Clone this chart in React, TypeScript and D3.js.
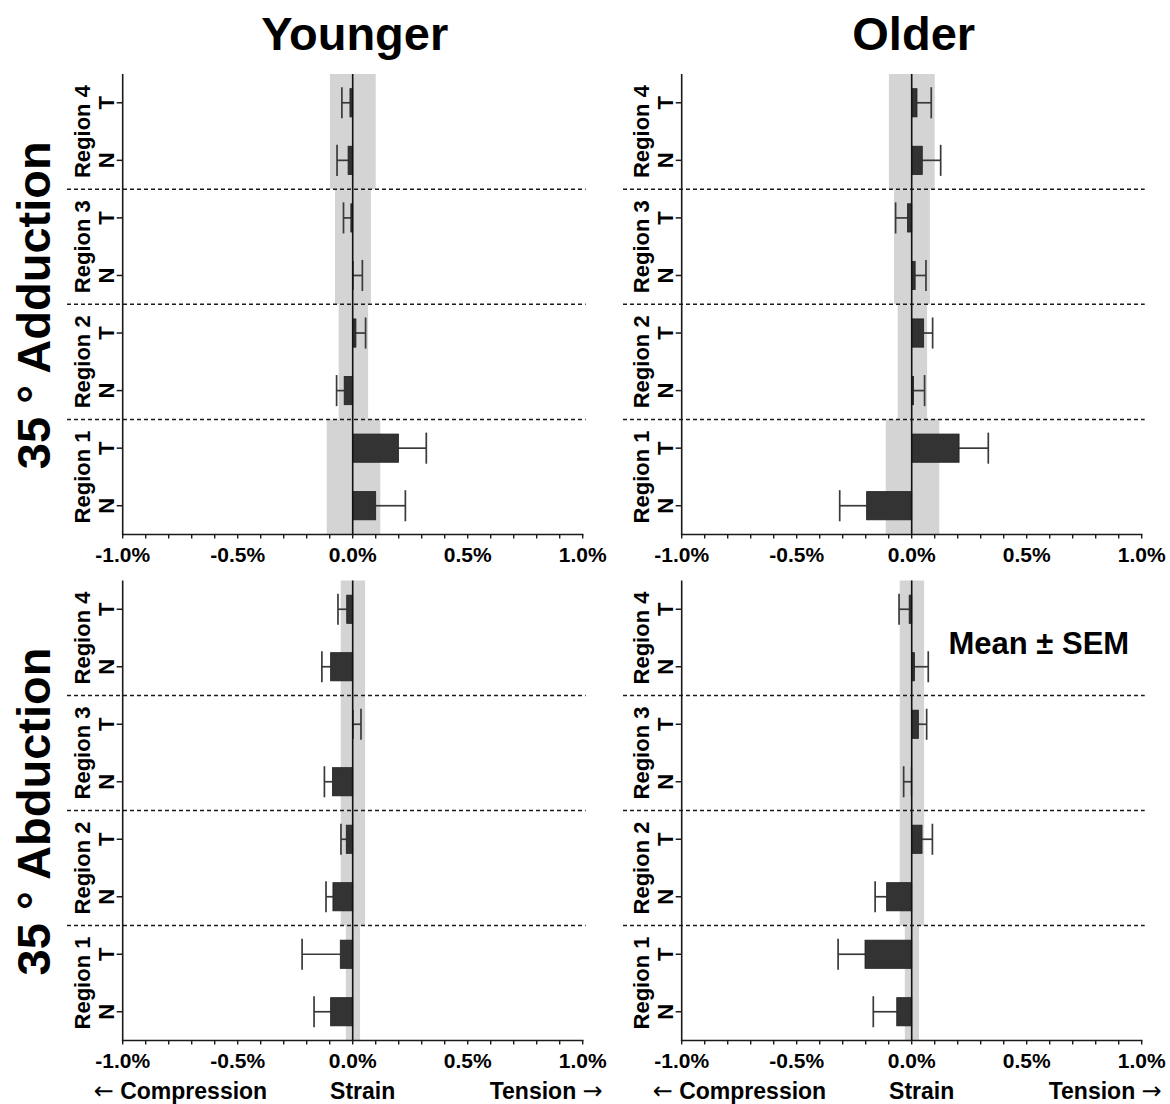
import React from "react";
import * as d3 from "d3";

// ---- data (values in % strain) ----
const categoryKeys = ["1N", "1T", "2N", "2T", "3N", "3T", "4N", "4T"];
const regionNames = ["Region 1", "Region 2", "Region 3", "Region 4"];
const sideNames = ["N", "T"];
const columnTitles = ["Younger", "Older"];
const rowTitles = ["35 ° Adduction", "35 ° Abduction"];
const tickValues = [-1, -0.9, -0.8, -0.7, -0.6, -0.5, -0.4, -0.3, -0.2, -0.1, 0, 0.1, 0.2, 0.3, 0.4, 0.5, 0.6, 0.7, 0.8, 0.9, 1];
const tickLabelValues = [-1, -0.5, 0, 0.5, 1];
const tickLabels = ["-1.0%", "-0.5%", "0.0%", "0.5%", "1.0%"];

const youngerAdductionMean = [0.100, 0.199, -0.037, 0.014, 0.002, -0.008, -0.020, -0.012];
const youngerAdductionSem = [0.129, 0.121, 0.033, 0.042, 0.040, 0.032, 0.048, 0.035];
const olderAdductionMean = [-0.196, 0.206, 0.008, 0.052, 0.015, -0.018, 0.046, 0.023];
const olderAdductionSem = [0.117, 0.127, 0.048, 0.039, 0.047, 0.052, 0.080, 0.062];
const youngerAbductionMean = [-0.096, -0.054, -0.086, -0.028, -0.088, 0.002, -0.096, -0.026];
const youngerAbductionSem = [0.072, 0.166, 0.030, 0.023, 0.035, 0.034, 0.038, 0.038];
const olderAbductionMean = [-0.065, -0.203, -0.109, 0.045, -0.002, 0.029, 0.012, -0.011];
const olderAbductionSem = [0.102, 0.117, 0.050, 0.045, 0.033, 0.036, 0.060, 0.044];

// grey threshold bands per region (1..4)
const adductionBandLow = [-0.113, -0.061, -0.077, -0.099];
const adductionBandHigh = [0.12, 0.067, 0.079, 0.1];
const abductionBandLow = [-0.030, -0.052, -0.052, -0.052];
const abductionBandHigh = [0.032, 0.054, 0.054, 0.054];

const FONT = "'Liberation Sans', Arial, Helvetica, sans-serif";
const ARROW_FONT = "'DejaVu Sans', sans-serif";

type PanelProps = {
  left: number;
  right: number;
  top: number;
  bottom: number;
  means: number[];
  sems: number[];
  bandLow: number[];
  bandHigh: number[];
  dashStart: number;
  showBottomLabels: boolean;
  showMeanLabel: boolean;
};

function Panel(p: PanelProps) {
  const x = d3.scaleLinear().domain([-1, 1]).range([p.left, p.right]);
  const y = d3
    .scaleBand<string>()
    .domain([...categoryKeys].reverse())
    .range([p.top, p.bottom])
    .padding(0);
  const bw = y.bandwidth();
  const barH = bw * 0.49;
  const capH = bw * 0.27;
  const regionTop = (r: number) => y(`${r + 1}T`)!;
  const regionBottom = (r: number) => y(`${r + 1}N`)! + bw;

  return (
    <g>
      {/* grey bands */}
      {regionNames.map((_, r) => (
        <rect
          key={"band" + r}
          x={x(p.bandLow[r])}
          y={regionTop(r)}
          width={x(p.bandHigh[r]) - x(p.bandLow[r])}
          height={regionBottom(r) - regionTop(r)}
          fill="#d4d4d4"
        />
      ))}
      {/* dashed separators */}
      {[1, 2, 3].map((r) => (
        <line
          key={"dash" + r}
          x1={p.dashStart}
          x2={p.right + 3}
          y1={regionTop(r - 1)}
          y2={regionTop(r - 1)}
          stroke="#1a1a1a"
          strokeWidth={1.5}
          strokeDasharray="4,3"
        />
      ))}
      {/* error bars */}
      {categoryKeys.map((k, i) => {
        const m = p.means[i];
        const dir = m >= 0 ? 1 : -1;
        const end = m + dir * p.sems[i];
        const cy = y(k)! + bw / 2;
        return (
          <g key={"err" + k}>
            <line x1={x(m)} x2={x(end)} y1={cy} y2={cy} stroke="#3a3a3a" strokeWidth={1.7} />
            <line x1={x(end)} x2={x(end)} y1={cy - capH} y2={cy + capH} stroke="#3a3a3a" strokeWidth={1.7} />
          </g>
        );
      })}
      {/* bars */}
      {categoryKeys.map((k, i) => {
        const m = p.means[i];
        const cy = y(k)! + bw / 2;
        return (
          <rect
            key={"bar" + k}
            x={Math.min(x(0), x(m))}
            y={cy - barH / 2}
            width={Math.abs(x(m) - x(0))}
            height={barH}
            fill="#333333"
            stroke="#1f1f1f"
            strokeWidth={0.8}
          />
        );
      })}
      {/* zero line */}
      <line x1={x(0)} x2={x(0)} y1={p.top} y2={p.bottom} stroke="#111" strokeWidth={1.6} />
      {/* y axis */}
      <line x1={p.left} x2={p.left} y1={p.top} y2={p.bottom + 0.8} stroke="#1a1a1a" strokeWidth={1.6} />
      {categoryKeys.map((k, i) => {
        const cy = y(k)! + bw / 2;
        return (
          <g key={"yt" + k}>
            <line x1={p.left - 6} x2={p.left} y1={cy} y2={cy} stroke="#1a1a1a" strokeWidth={1.5} />
            <text
              transform={`translate(${p.left - 9},${cy}) rotate(-90)`}
              textAnchor="middle"
              fontFamily={FONT}
              fontWeight="bold"
              fontSize={22}
            >
              {sideNames[i % 2]}
            </text>
          </g>
        );
      })}
      {regionNames.map((name, r) => (
        <text
          key={"rl" + r}
          transform={`translate(${p.left - 33},${(regionTop(r) + regionBottom(r)) / 2}) rotate(-90)`}
          textAnchor="middle"
          fontFamily={FONT}
          fontWeight="bold"
          fontSize={22}
        >
          {name}
        </text>
      ))}
      {/* x axis */}
      <line x1={p.left - 0.8} x2={p.right + 0.8} y1={p.bottom} y2={p.bottom} stroke="#1a1a1a" strokeWidth={1.6} />
      {tickValues.map((t) => (
        <line key={"xt" + t} x1={x(t)} x2={x(t)} y1={p.bottom} y2={p.bottom + 4} stroke="#1a1a1a" strokeWidth={1.4} />
      ))}
      {tickLabelValues.map((t, i) => (
        <text
          key={"xl" + t}
          x={x(t)}
          y={p.bottom + 27}
          textAnchor="middle"
          fontFamily={FONT}
          fontWeight="bold"
          fontSize={21}
        >
          {tickLabels[i]}
        </text>
      ))}
      {p.showBottomLabels && (
        <g fontFamily={FONT} fontWeight="bold" fontSize={23}>
          <text x={p.left - 29} y={p.bottom + 58} textAnchor="start">
            <tspan fontFamily={ARROW_FONT} fontWeight="normal" fontSize={24}>←</tspan>
            <tspan> Compression</tspan>
          </text>
          <text x={x(0) + 10} y={p.bottom + 58} textAnchor="middle">
            Strain
          </text>
          <text x={p.right + 20} y={p.bottom + 58} textAnchor="end">
            <tspan>Tension </tspan>
            <tspan fontFamily={ARROW_FONT} fontWeight="normal" fontSize={24}>→</tspan>
          </text>
        </g>
      )}
      {p.showMeanLabel && (
        <text x={x(0.16)} y={p.top + 73.5} fontFamily={FONT} fontWeight="bold" fontSize={31}>
          Mean ± SEM
        </text>
      )}
    </g>
  );
}

export default function App() {
  const cols = [
    { left: 122.7, right: 582.7, dashStart: 67 },
    { left: 681.7, right: 1141.7, dashStart: 623 },
  ];
  const rows = [
    { top: 74, bottom: 534.5 },
    { top: 580.5, bottom: 1040.5 },
  ];
  const panelData = [
    [
      { means: youngerAdductionMean, sems: youngerAdductionSem },
      { means: olderAdductionMean, sems: olderAdductionSem },
    ],
    [
      { means: youngerAbductionMean, sems: youngerAbductionSem },
      { means: olderAbductionMean, sems: olderAbductionSem },
    ],
  ];
  const bands = [
    { low: adductionBandLow, high: adductionBandHigh },
    { low: abductionBandLow, high: abductionBandHigh },
  ];

  return (
    <svg
      width={1170}
      height={1104}
      style={{ position: "absolute", left: 0, top: 0, display: "block", background: "#fff" }}
    >
      <rect x={0} y={0} width={1170} height={1104} fill="#fff" />
      {columnTitles.map((t, c) => (
        <text
          key={t}
          x={(cols[c].left + cols[c].right) / 2 + 2}
          y={50}
          textAnchor="middle"
          fontFamily={FONT}
          fontWeight="bold"
          fontSize={47}
        >
          {t}
        </text>
      ))}
      {rowTitles.map((t, r) => (
        <text
          key={t}
          transform={`translate(50,${(rows[r].top + rows[r].bottom) / 2 + 1}) rotate(-90)`}
          textAnchor="middle"
          fontFamily={FONT}
          fontWeight="bold"
          fontSize={47}
        >
          {t}
        </text>
      ))}
      {rows.map((row, r) =>
        cols.map((col, c) => (
          <Panel
            key={`${r}-${c}`}
            left={col.left}
            right={col.right}
            top={row.top}
            bottom={row.bottom}
            dashStart={col.dashStart}
            means={panelData[r][c].means}
            sems={panelData[r][c].sems}
            bandLow={bands[r].low}
            bandHigh={bands[r].high}
            showBottomLabels={r === 1}
            showMeanLabel={r === 1 && c === 1}
          />
        ))
      )}
    </svg>
  );
}
